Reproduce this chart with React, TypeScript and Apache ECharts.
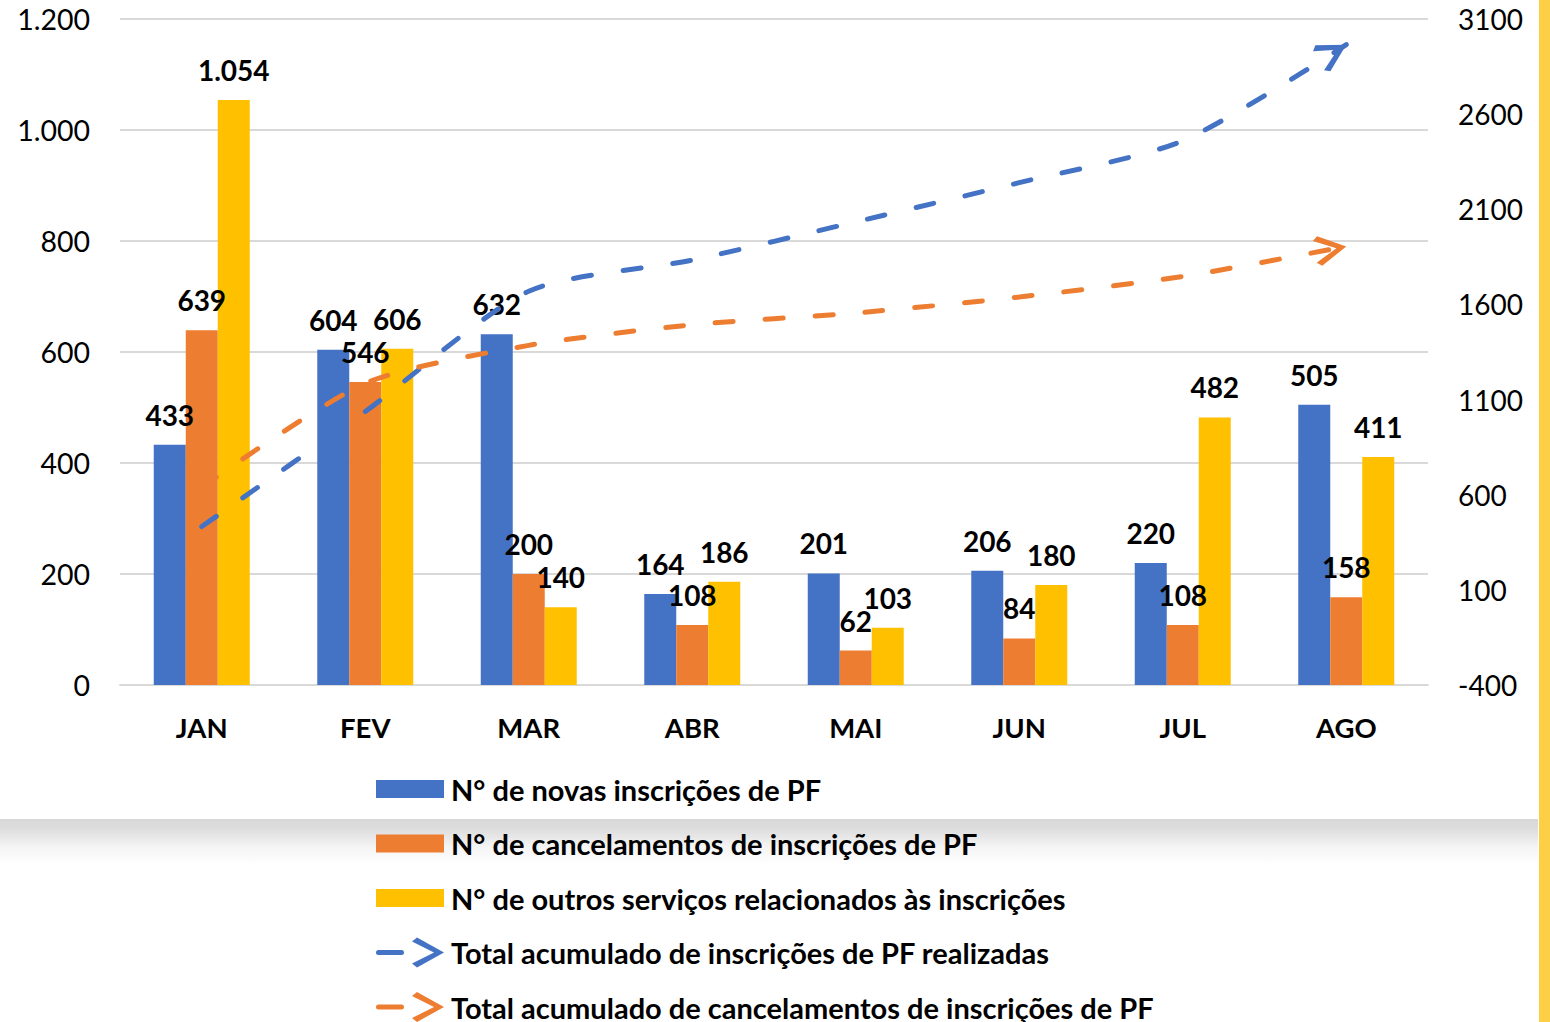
import React, { useEffect, useRef } from 'react';
import * as echarts from 'echarts';

const categories = ['JAN', 'FEV', 'MAR', 'ABR', 'MAI', 'JUN', 'JUL', 'AGO'];
const novasInscricoes = [433, 604, 632, 164, 201, 206, 220, 505];
const cancelamentos = [639, 546, 200, 108, 62, 84, 108, 158];
const outrosServicos = [1054, 606, 140, 186, 103, 180, 482, 411];
const totalInscricoes = [433, 1037, 1669, 1833, 2034, 2240, 2460, 2965];
const totalCancelamentos = [639, 1185, 1385, 1493, 1555, 1639, 1747, 1905];
const rightTicks = [-400, 100, 600, 1100, 1600, 2100, 2600, 3100];

const seriesNames = [
  'N° de novas inscrições de PF',
  'N° de cancelamentos de inscrições de PF',
  'N° de outros serviços relacionados às inscrições',
  'Total acumulado de inscrições de PF realizadas',
  'Total acumulado de cancelamentos de inscrições de PF',
];

const BLUE = '#4472C4';
const ORANGE = '#ED7D31';
const YELLOW = '#FFC000';
const FONT = 'Lato';

const fmt = (v: number) => String(v).replace(/\B(?=(\d{3})+(?!\d))/g, '.');

const arrowPath =
  'path://M0,0 L-27,-15 L-32,-11 L-10,0 L-32,11 L-27,15 Z M32,0 l0.01,0 l0,0.01 Z';
const barIcon =
  'path://M0,0 h0.01 v0.01 h-0.01 Z M0,6 h68 v18 h-68 Z M0,29.99 h0.01 v0.01 h-0.01 Z';
const lineIcon =
  'path://M2.5,12.5 h23 a2.5,2.5 0 0 1 0,5 h-23 a2.5,2.5 0 0 1 0,-5 Z M68,15 L41,0 L36,4 L58,15 L36,26 L41,30 Z';

const lineData = (vals: number[], rot: number) =>
  vals.map((v, i) =>
    i === vals.length - 1
      ? { value: v, symbol: arrowPath, symbolSize: [64, 30], symbolRotate: rot }
      : { value: v, symbol: 'none' }
  );

export default function App() {
  const ref = useRef<HTMLDivElement>(null);
  useEffect(() => {
    if (!ref.current) return;
    const chart = echarts.init(ref.current, null, { renderer: 'svg' });
    const barLabel = {
      show: true,
      position: 'top',
      distance: 16,
      color: '#000',
      fontFamily: FONT,
      fontWeight: 'bold',
      fontSize: 28,
      formatter: (p: any) => fmt(p.value),
    };
    const bar = (name: string, data: number[], color: string) => ({
      name,
      type: 'bar',
      data,
      barWidth: 32,
      barGap: '0%',
      itemStyle: { color },
      label: barLabel,
    });
    const line = (name: string, data: any[], color: string) => ({
      name,
      type: 'line',
      yAxisIndex: 1,
      data,
      smooth: 0.25,
      color,
      itemStyle: { color, borderWidth: 0 },
      lineStyle: { color, width: 5, type: [18, 32], cap: 'round' },
      z: 5,
    });
    chart.setOption({
      animation: false,
      backgroundColor: '#fff',
      grid: { left: 120, right: 122, top: 19, bottom: 337, containLabel: false },
      xAxis: {
        type: 'category',
        data: categories,
        axisLine: { show: true, lineStyle: { color: '#d9d9d9', width: 2 } },
        axisTick: { show: false },
        axisLabel: {
          color: '#000',
          fontFamily: FONT,
          fontWeight: 'bold',
          fontSize: 27.5,
          margin: 28,
        },
      },
      yAxis: [
        {
          type: 'value',
          min: 0,
          max: 1200,
          interval: 200,
          axisLine: { show: false },
          axisTick: { show: false },
          splitLine: { lineStyle: { color: '#d9d9d9', width: 2 } },
          axisLabel: {
            color: '#000',
            fontFamily: FONT,
            fontSize: 28.5,
            margin: 30,
            formatter: (v: number) => fmt(v),
          },
        },
        {
          type: 'value',
          min: -400,
          max: 3100,
          position: 'right',
          axisLine: { show: false },
          axisTick: { show: false },
          splitLine: { show: false },
          axisLabel: {
            color: '#000',
            fontFamily: FONT,
            fontSize: 28,
            margin: 30,
            customValues: rightTicks,
            formatter: (v: number) => String(v),
          },
        },
      ],
      legend: {
        orient: 'vertical',
        left: 376,
        top: 774,
        height: 260,
        padding: 0,
        itemWidth: 68,
        itemHeight: 30,
        itemGap: 24.5,
        itemStyle: { borderWidth: 0 },
        textStyle: {
          color: '#000',
          fontFamily: FONT,
          fontWeight: 'bold',
          fontSize: 29,
          padding: [0, 0, 0, 2],
        },
        data: [
          { name: seriesNames[0], icon: barIcon, itemStyle: { color: BLUE } },
          { name: seriesNames[1], icon: barIcon, itemStyle: { color: ORANGE } },
          { name: seriesNames[2], icon: barIcon, itemStyle: { color: YELLOW } },
          { name: seriesNames[3], icon: lineIcon, itemStyle: { color: BLUE } },
          { name: seriesNames[4], icon: lineIcon, itemStyle: { color: ORANGE } },
        ],
      },
      graphic: [
        {
          type: 'rect',
          z: -10,
          silent: true,
          shape: { x: 0, y: 819, width: 1538, height: 46 },
          style: {
            fill: new echarts.graphic.LinearGradient(0, 0, 0, 1, [
              { offset: 0, color: '#d8d8d8' },
              { offset: 0.2, color: '#dcdcdc' },
              { offset: 0.6, color: '#f4f4f4' },
              { offset: 1, color: '#ffffff' },
            ]),
          },
        },
        {
          type: 'rect',
          z: -10,
          silent: true,
          shape: { x: 1539, y: 0, width: 11, height: 1022 },
          style: { fill: '#FDCF45' },
        },
      ],
      series: [
        bar(seriesNames[0], novasInscricoes, BLUE),
        bar(seriesNames[1], cancelamentos, ORANGE),
        bar(seriesNames[2], outrosServicos, YELLOW),
        line(seriesNames[3], lineData(totalInscricoes, 30), BLUE),
        line(seriesNames[4], lineData(totalCancelamentos, 10), ORANGE),
      ],
    });
    return () => chart.dispose();
  }, []);
  return (
    <div
      ref={ref}
      style={{ position: 'fixed', left: 0, top: 0, width: 1550, height: 1022 }}
    />
  );
}
